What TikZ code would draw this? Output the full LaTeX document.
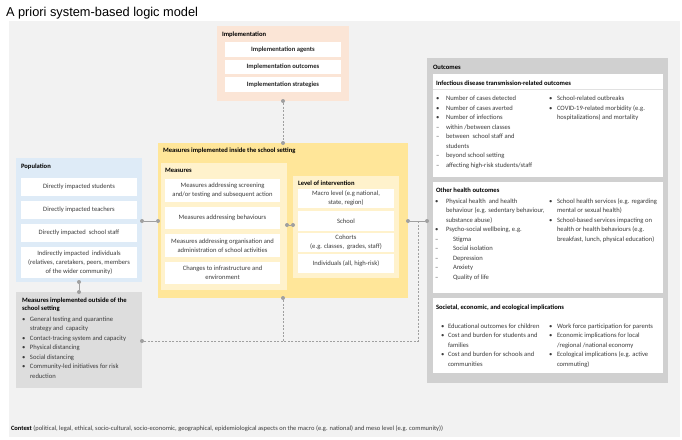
\documentclass[tikz,border=0pt]{standalone}
\usepackage{fontspec}
\setmainfont{Carlito}
\newfontfamily\titlefont{Liberation Sans}
\definecolor{bgc}{RGB}{242,242,242}
\definecolor{peach}{RGB}{251,229,214}
\definecolor{yel}{RGB}{255,230,153}
\definecolor{lyel}{RGB}{255,242,204}
\definecolor{lblue}{RGB}{222,235,247}
\definecolor{gout}{RGB}{221,221,221}
\definecolor{gocm}{RGB}{208,208,208}
\definecolor{conn}{RGB}{160,160,160}
\definecolor{txt}{RGB}{60,60,60}
\definecolor{sep}{RGB}{225,225,225}
\newcommand\rbox[7]{%
  \node[#6, anchor=north west, minimum width={(#4-#2)*1pt}, minimum height={(#5-#3)*1pt}] (#1) at (#2,#3) {#7};}
\tikzset{
  x=1pt, y=-1pt,
  every node/.style={inner sep=0pt, outer sep=0pt, font=\fontsize{6.6}{8.8}\selectfont, text=txt},
  panel/.style={fill=#1, draw=none},
  wbox/.style={fill=white, draw=none, align=center},
  wboxb/.style={fill=white, draw=none, align=center, font=\fontsize{6.6}{8.8}\selectfont\bfseries, text=black!85},
  hdr/.style={anchor=west, font=\fontsize{6.6}{8.8}\selectfont\bfseries, text=black},
  lst/.style={anchor=base west, align=left, font=\fontsize{6.6}{9.5}\selectfont},
  dot/.style={circle, fill=conn, minimum size=4pt},
  sline/.style={draw=conn, line width=0.9pt},
  dline/.style={draw=conn, line width=0.8pt, dash pattern=on 2pt off 1.5pt},
}
\begin{document}
\begin{tikzpicture}
\useasboundingbox (0,0) rectangle (682,439);
\node[anchor=west, font=\titlefont\fontsize{12.8}{15}\selectfont, text=black] (title) at (6,13) {A priori system-based logic model};
\rbox{bg}{9}{21}{680}{437}{panel=bgc}{}

% Implementation
\rbox{impl}{217}{26}{349}{101}{panel=peach}{}
\node[hdr] (implt) at (222,35) {Implementation};
\rbox{ia}{225}{42}{341}{57}{wboxb}{Implementation agents}
\rbox{io}{225}{60}{341}{74}{wboxb}{Implementation outcomes}
\rbox{is}{225}{77}{341}{92}{wboxb}{Implementation strategies}

% Inside the school setting
\rbox{ins}{158}{143}{408}{298}{panel=yel}{}
\node[hdr] (inst) at (163,151) {Measures implemented inside the school setting};
\rbox{meas}{161}{163}{287}{290}{panel=lyel}{}
\node[hdr] (meast) at (165,170) {Measures};
\rbox{m1}{165}{179}{280}{202}{wbox}{Measures addressing screening\\and/or testing and subsequent action}
\rbox{m2}{165}{207}{280}{229}{wbox}{Measures addressing behaviours}
\rbox{m3}{165}{234}{280}{257}{wbox}{Measures addressing organisation and\\administration of school activities}
\rbox{m4}{165}{262}{280}{284}{wbox}{Changes to infrastructure and\\environment}
\rbox{lev}{293}{176}{399}{278}{panel=lyel}{}
\node[hdr] (levt) at (298,183) {Level of intervention};
\rbox{l1}{298}{189}{394}{208}{wbox}{Macro level (e.g national,\\state, region)}
\rbox{l2}{298}{211}{394}{231}{wbox}{School}
\rbox{l3}{298}{233}{394}{252}{wbox}{Cohorts\\(e.g. classes,\ \ grades, staff)}
\rbox{l4}{298}{254}{394}{273}{wbox}{Individuals (all, high-risk)}

% Population
\rbox{pop}{16}{158}{142}{282}{panel=lblue}{}
\node[hdr] (popt) at (21,167) {Population};
\rbox{p1}{21}{178}{137}{196}{wbox}{Directly impacted students}
\rbox{p2}{21}{201}{137}{219}{wbox}{Directly impacted teachers}
\rbox{p3}{21}{224}{137}{242}{wbox}{Directly impacted\ \ school staff}
\rbox{p4}{21}{247}{137}{278}{wbox}{Indirectly impacted\ \ individuals\\(relatives, caretakers, peers, members\\of the wider community)}

% Outside the school setting
\rbox{out}{16}{292}{142}{388}{panel=gout}{}
\node[lst, font=\fontsize{6.6}{8.3}\selectfont\bfseries, text=black] (outt) at (22,302.3) {\begin{tabular}[t]{@{}l@{}}Measures implemented outside of the\\school setting\end{tabular}};
\node[lst] (outl) at (22,321.3) {\begin{tabular}[t]{@{}p{8pt}@{}l@{}}
• & General testing and quarantine\\
  & strategy and\ \ capacity\\
• & Contact-tracing system and capacity\\
• & Physical distancing\\
• & Social distancing\\
• & Community-led initiatives for risk\\
  & reduction
\end{tabular}};

% Outcomes
\rbox{oc}{427}{58}{668}{383}{panel=gocm}{}
\node[hdr] (oct) at (433,67) {Outcomes};
\rbox{s1}{433}{74}{663}{177}{panel=white}{}
\node[hdr] (s1t) at (436,83) {Infectious disease transmission-related outcomes};
\draw[draw=sep, line width=0.6pt] (s1.west |- 0,89) -- (s1.east |- 0,89);
\node[lst] (s1l) at (436,100.6) {\begin{tabular}[t]{@{}p{10pt}@{}l@{}}
• & Number of cases detected\\
• & Number of cases averted\\
• & Number of infections\\
– & within /between classes\\
– & between\ \ school staff and\\
  & students\\
– & beyond school setting\\
– & affecting high-risk students/staff
\end{tabular}};
\node[lst] (s1r) at (549,100.6) {\begin{tabular}[t]{@{}p{8pt}@{}l@{}}
• & School-related outbreaks\\
• & COVID-19-related morbidity (e.g.\\
  & hospitalizations) and mortality
\end{tabular}};

\rbox{s2}{433}{182}{663}{293}{panel=white}{}
\node[hdr] (s2t) at (436,190) {Other health outcomes};
\node[lst] (s2l) at (435,203) {\begin{tabular}[t]{@{}p{11pt}@{}l@{}}
• & Physical health\ \ and health\\
  & behaviour (e.g. sedentary behaviour,\\
  & substance abuse)\\
• & Psycho-social wellbeing, e.g.\\
– & \hspace{7pt}Stigma\\
– & \hspace{7pt}Social isolation\\
– & \hspace{7pt}Depression\\
– & \hspace{7pt}Anxiety\\
– & \hspace{7pt}Quality of life
\end{tabular}};
\node[lst] (s2r) at (549,203) {\begin{tabular}[t]{@{}p{8pt}@{}l@{}}
• & School health services (e.g. regarding\\
  & mental or sexual health)\\
• & School-based services impacting on\\
  & health or health behaviours (e.g.\\
  & breakfast, lunch, physical education)
\end{tabular}};

\rbox{s3}{433}{298}{663}{373}{panel=white}{}
\node[hdr] (s3t) at (436,308) {Societal, economic, and ecological implications};
\node[lst] (s3l) at (441,328.3) {\begin{tabular}[t]{@{}p{7pt}@{}l@{}}
• & Educational outcomes for children\\
• & Cost and burden for students and\\
  & families\\
• & Cost and burden for schools and\\
  & communities
\end{tabular}};
\node[lst] (s3r) at (549,328.3) {\begin{tabular}[t]{@{}p{8pt}@{}l@{}}
• & Work force participation for parents\\
• & Economic implications for local\\
  & /regional /national economy\\
• & Ecological implications (e.g. active\\
  & commuting)
\end{tabular}};

% Context
\node[anchor=west, font=\fontsize{6.5}{7.5}\selectfont] (ctx) at (11,429) {\textbf{\color{black}Context} (political, legal, ethical, socio-cultural, socio-economic, geographical, epidemiological aspects on the macro (e.g. national) and meso level (e.g. community))};

% Connectors
\coordinate (j1) at (418,221);
\coordinate (j2) at (418,341);
\coordinate (j3) at (283,341);
\node[dot] (c1) at (283,101) {};
\node[dot] (c2) at (283,143) {};
\node[dot] (c3) at (142,221) {};
\node[dot] (c4) at (158,221) {};
\node[dot] (c5) at (287,225) {};
\node[dot] (c6) at (293,225) {};
\node[dot] (c7) at (408,221) {};
\node[dot] (c8) at (427,221) {};
\node[dot] (c9) at (283,298) {};
\node[dot] (c10) at (142,341) {};
\node[dot] (c11) at (79,282) {};
\node[dot] (c12) at (79,292) {};
\draw[dline] (c1) -- (c2);
\draw[sline] (c3) -- (c4);
\draw[sline] (c5) -- (c6);
\draw[sline] (c7) -- (c8);
\draw[sline] (c11) -- (c12);
\draw[dline] (j1) -- (j2) -- (c10);
\draw[dline] (c9) -- (j3);
\end{tikzpicture}
\end{document}
